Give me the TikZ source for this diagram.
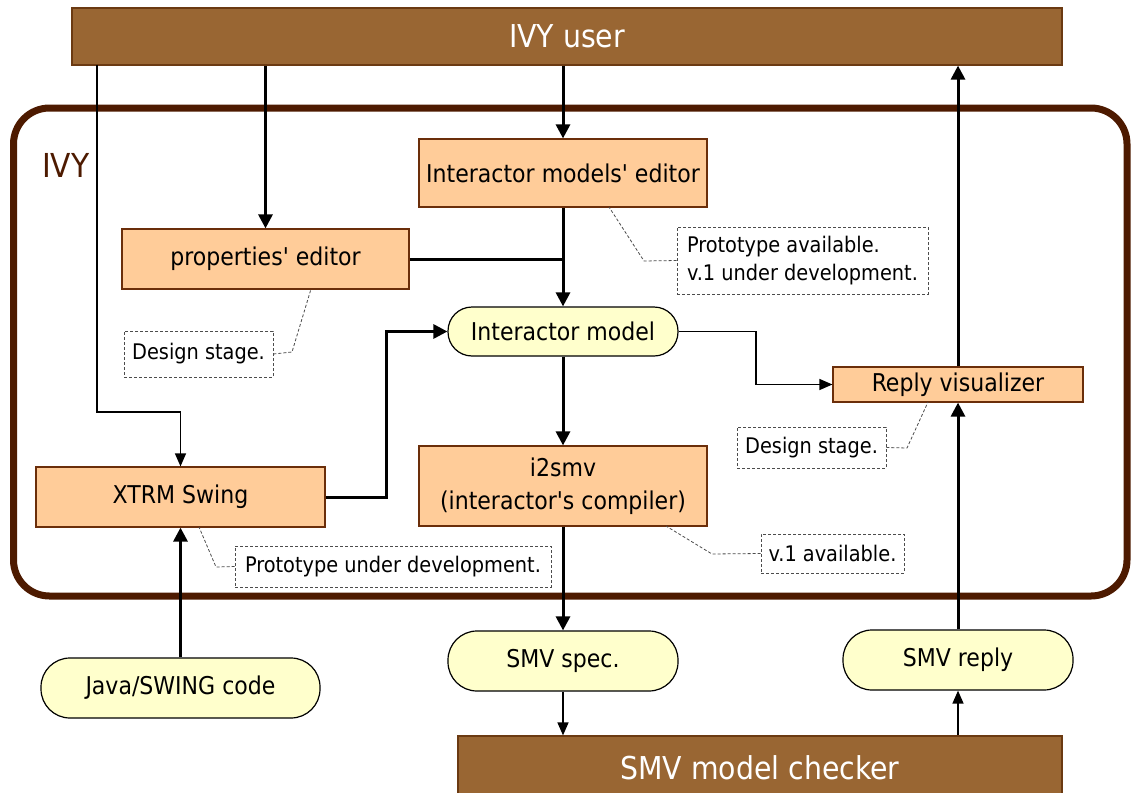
\documentclass[tikz,border=0pt]{standalone}
\usepackage{fontspec}
\setmainfont{DejaVu Sans Condensed}[Ligatures=TeXOff]
\usetikzlibrary{arrows.meta}
\definecolor{barbrown}{HTML}{996633}
\definecolor{barline}{HTML}{6B3A12}
\definecolor{darkbrown}{HTML}{4D1A00}
\definecolor{peach}{HTML}{FFCC99}
\definecolor{cream}{HTML}{FFFFCC}
\definecolor{boxline}{HTML}{6B2E0A}
\tikzset{
  bar/.style={draw=barline,line width=1.2pt,fill=barbrown,text=white,font=\fontsize{31.5}{33}\selectfont,inner sep=0pt},
  compbox/.style={draw=boxline,line width=1.2pt,fill=peach,font=\fontsize{24.5}{33}\selectfont,inner sep=0pt,align=center},
  pill/.style={draw=black,line width=1.2pt,fill=cream,font=\fontsize{24.5}{28}\selectfont,inner sep=0pt,rounded corners=24pt},
  note/.style={draw=black!70,dashed,dash pattern=on 3pt off 2pt,line width=0.8pt,font=\fontsize{21.5}{28}\selectfont,inner sep=0pt,align=left},
  callout/.style={draw=black!70,dash pattern=on 3pt off 2pt,line width=0.8pt},
  thickarrow/.style={line width=3pt,-{Triangle[length=14pt,width=14pt]}},
  thickline/.style={line width=3pt},
  thinarrow/.style={line width=1.3pt,-{Triangle[length=13pt,width=11pt]}},
}
\begin{document}
\begin{tikzpicture}[x=1pt,y=-1pt]
\useasboundingbox (0,0) rectangle (1134,792);
% container
\draw[darkbrown,line width=7pt,rounded corners=36pt] (13.5,108) rectangle (1127,596);
\node[darkbrown,font=\fontsize{33}{34}\selectfont,anchor=west,inner sep=0pt] (ivy) at (42,165) {IVY};
% bars
\node[bar,minimum width=990pt,minimum height=57pt] (user) at (567,36.5) {IVY user};
\node[bar,minimum width=604pt,minimum height=64pt] (checker) at (760,768) {SMV model checker};
% components
\node[compbox,minimum width=288pt,minimum height=68pt] (ime) at (563,173) {Interactor models' editor};
\node[compbox,minimum width=287pt,minimum height=60pt] (pe) at (265.5,259) {properties' editor};
\node[pill,minimum width=230pt,minimum height=49pt] (im) at (563,331.5) {Interactor model};
\node[compbox,minimum width=250pt,minimum height=35pt] (rv) at (958,384.5) {Reply visualizer};
\node[compbox,minimum width=288pt,minimum height=80pt] (i2) at (563,486) {i2smv\\(interactor's compiler)};
\node[compbox,minimum width=289pt,minimum height=60pt] (xs) at (180.5,497) {XTRM Swing};
\node[pill,rounded corners=29pt,minimum width=279pt,minimum height=60pt] (java) at (180.5,688) {Java/SWING code};
\node[pill,rounded corners=29pt,minimum width=230pt,minimum height=60pt] (spec) at (563,661) {SMV spec.};
\node[pill,rounded corners=29pt,minimum width=230pt,minimum height=60pt] (reply) at (958,660) {SMV reply};
% notes
\node[note,minimum width=149pt,minimum height=46pt] (n1) at (198.5,354) {Design stage.};
\node[note,minimum width=251pt,minimum height=67pt] (n2) at (802.5,260.5) {Prototype available.\\v.1 under development.};
\node[note,minimum width=149pt,minimum height=41pt] (n3) at (811.5,447.5) {Design stage.};
\node[note,minimum width=143pt,minimum height=39pt] (n4) at (832.5,553.5) {v.1 available.};
\node[note,minimum width=316pt,minimum height=41pt] (n5) at (393,566.5) {Prototype under development.};
% callouts
\coordinate (c1) at (292,352); \coordinate (t1) at (311,289);
\coordinate (c2) at (644,261); \coordinate (t2) at (609,207);
\coordinate (c3) at (907,448); \coordinate (t3) at (928,402);
\coordinate (c4) at (712,554); \coordinate (t4) at (666,526);
\coordinate (c5) at (216,567); \coordinate (t5) at (199,527);
\draw[callout] (n1.east) -- (c1) -- (t1);
\draw[callout] (n2.west) -- (c2) -- (t2);
\draw[callout] (n3.east) -- (c3) -- (t3);
\draw[callout] (n4.west) -- (c4) -- (t4);
\draw[callout] (n5.west) -- (c5) -- (t5);
% connectors
\coordinate (u1) at (97,65);
\coordinate (k1) at (97,412);
\coordinate (k2) at (386,400);
\coordinate (k3) at (756,360);
\draw[thickarrow] (pe.north |- user.south) -- (pe.north);
\draw[thickarrow] (ime.north |- user.south) -- (ime.north);
\draw[thinarrow] (u1) -- (k1) -| (xs.north);
\draw[thickarrow] (ime.south) -- (im.north);
\draw[thickline] (pe.east) -- (pe.east -| im.north);
\draw[thickarrow] (im.south) -- (i2.north);
\draw[thickarrow] (xs.east) -| (k2) |- (im.west);
\draw[thinarrow] (im.east) -| (k3) |- (rv.west);
\draw[thickarrow] (java.north) -- (xs.south);
\draw[thickarrow] (i2.south) -- (spec.north);
\draw[thinarrow] (spec.south) -- (spec.south |- checker.north);
\draw[thickarrow] (reply.north) -- (rv.south);
\draw[thickarrow] (rv.north) -- (rv.north |- user.south);
\draw[thinarrow] (reply.south |- checker.north) -- (reply.south);
\end{tikzpicture}
\end{document}
